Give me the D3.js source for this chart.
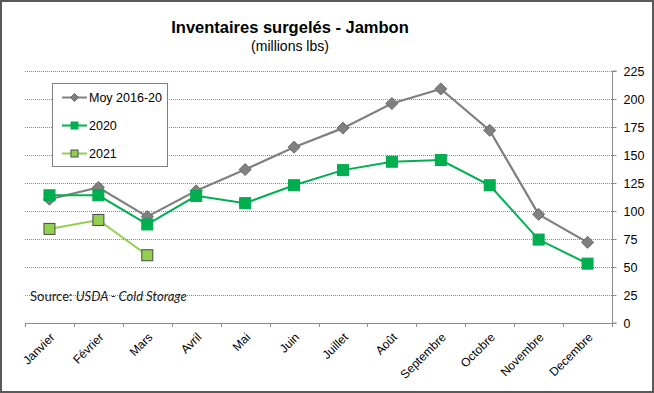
<!DOCTYPE html>
<html><head><meta charset="utf-8">
<script src="https://cdn.jsdelivr.net/npm/d3@7"></script>
<style>body{margin:0;background:#fff}svg{display:block}</style>
</head><body>
<svg id="c" width="654" height="393"></svg>
<script>
const months = ["Janvier","Février","Mars","Avril","Mai","Juin","Juillet","Août","Septembre","Octobre","Novembre","Decembre"];
const moy = [110.5,121,95,118,137,157,174,196,209,172,97,72];
const y2020 = [114,114,88,113.5,107,123,136.5,144,145.5,123,74.5,53];
const y2021 = [84,92,60.5];
const yTicks = [0,25,50,75,100,125,150,175,200,225];
const seriesNames = ["Moy 2016-20","2020","2021"];

const svg = d3.select("#c");
const W=654,H=393;
svg.append("rect").attr("x",1).attr("y",1).attr("width",W-2).attr("height",H-2)
  .attr("fill","#fff").attr("stroke","#595959").attr("stroke-width",2);

const x0=25,x1=612,yTop=71,yBot=323;
const x = d3.scaleBand().domain(months).range([x0,x1]);
const y = d3.scaleLinear().domain([0,225]).range([yBot,yTop]);
const cx = m => x(m)+x.bandwidth()/2;

// gridlines
svg.append("g").selectAll("line").data(yTicks.filter(d=>d>0)).join("line")
  .attr("x1",x0).attr("x2",x1).attr("y1",d=>Math.round(y(d))+0.5).attr("y2",d=>Math.round(y(d))+0.5)
  .attr("stroke","#8c8c8c").attr("stroke-width",1).attr("stroke-dasharray","1,1");

// right axis
const ya = svg.append("g").attr("transform",`translate(${x1+0.5},0)`)
  .call(d3.axisRight(y).tickValues(yTicks).tickSize(4).tickPadding(7).tickFormat(d3.format("d")));
ya.select(".domain").attr("stroke","#8c8c8c").attr("d",`M4,${yTop}H0V${yBot}H4`);
ya.selectAll(".tick line").attr("stroke","#8c8c8c");
ya.selectAll("text").attr("font-family","Liberation Sans, Arial, sans-serif").attr("font-size",12.5).attr("fill","#000");

// bottom axis
const xa = svg.append("g").attr("transform",`translate(0,${yBot+0.5})`)
  .call(d3.axisBottom(x).tickSize(0).tickFormat(""));
xa.select(".domain").attr("stroke","#8c8c8c").attr("d",`M${x0},0H${x1}`);
const bounds = months.map(m=>x(m)).concat([x1]);
svg.append("g").selectAll("line").data(bounds).join("line")
  .attr("x1",d=>Math.round(d)+0.5).attr("x2",d=>Math.round(d)+0.5)
  .attr("y1",yBot).attr("y2",yBot+4).attr("stroke","#8c8c8c");
svg.append("g").selectAll("text").data(months).join("text")
  .attr("transform",m=>`translate(${cx(m)+3},${yBot+12}) rotate(-45)`)
  .attr("text-anchor","end").attr("dy","0.35em")
  .attr("font-family","Liberation Sans, Arial, sans-serif").attr("font-size",12)
  .text(d=>d);

// lines
const line = d3.line().x((d,i)=>cx(months[i])).y(d=>y(d));
svg.append("path").datum(moy).attr("d",line).attr("fill","none").attr("stroke","#808080").attr("stroke-width",2.2);
svg.append("path").datum(y2020).attr("d",line).attr("fill","none").attr("stroke","#00B050").attr("stroke-width",2);
svg.append("path").datum(y2021).attr("d",line).attr("fill","none").attr("stroke","#92D050").attr("stroke-width",2);

const diamond = (s)=>`M0,${-s}L${s},0L0,${s}L${-s},0Z`;
svg.append("g").selectAll("path").data(moy).join("path")
  .attr("transform",(d,i)=>`translate(${cx(months[i])},${y(d)})`)
  .attr("d",diamond(6)).attr("fill","#808080").attr("stroke","#6a6a6a").attr("stroke-width",1);
svg.append("g").selectAll("rect").data(y2020).join("rect")
  .attr("x",(d,i)=>cx(months[i])-5.5).attr("y",d=>y(d)-5.5).attr("width",11).attr("height",11)
  .attr("fill","#00B050").attr("stroke","#00A84B").attr("stroke-width",1);
svg.append("g").selectAll("rect").data(y2021).join("rect")
  .attr("x",(d,i)=>cx(months[i])-5.5).attr("y",d=>y(d)-5.5).attr("width",11).attr("height",11)
  .attr("fill","#92D050").attr("stroke","#4a4a4a").attr("stroke-width",1);

// legend
const lg = svg.append("g");
lg.append("rect").attr("x",52.5).attr("y",83.5).attr("width",115).attr("height",83)
  .attr("fill","#fff").attr("stroke","#7f7f7f").attr("stroke-width",1);
const legY=[97.5,125.5,153.5];
const cols=["#808080","#00B050","#92D050"];
seriesNames.forEach((n,i)=>{
  lg.append("line").attr("x1",62).attr("x2",87).attr("y1",legY[i]).attr("y2",legY[i]).attr("stroke",cols[i]).attr("stroke-width",2);
  if(i===0) lg.append("path").attr("transform",`translate(74.5,${legY[i]})`).attr("d",diamond(4)).attr("fill","#808080").attr("stroke","#6a6a6a");
  else lg.append("rect").attr("x",71).attr("y",legY[i]-3.5).attr("width",7).attr("height",7)
     .attr("fill",cols[i]).attr("stroke",i===2?"#4a4a4a":cols[i]);
  lg.append("text").attr("x",89).attr("y",legY[i]).attr("dy","0.36em")
    .attr("font-family","Liberation Sans, Arial, sans-serif").attr("font-size",12.5).text(n);
});

// titles
svg.append("text").attr("x",290).attr("y",33).attr("text-anchor","middle")
  .attr("font-family","Liberation Sans, Arial, sans-serif").attr("font-weight","bold").attr("font-size",16.5)
  .text("Inventaires surgelés - Jambon");
svg.append("text").attr("x",290).attr("y",51).attr("text-anchor","middle")
  .attr("font-family","Liberation Sans, Arial, sans-serif").attr("font-size",14)
  .text("(millions lbs)");

// source
const src = svg.append("text").attr("x",30).attr("y",301)
  .attr("font-family","Lato, Open Sans, sans-serif").attr("font-size",13)
  .attr("fill","#1a1a1a");
src.append("tspan").text("Source: ");
src.append("tspan").attr("font-style","italic").text("USDA - Cold Storage");
</script>
</body></html>
